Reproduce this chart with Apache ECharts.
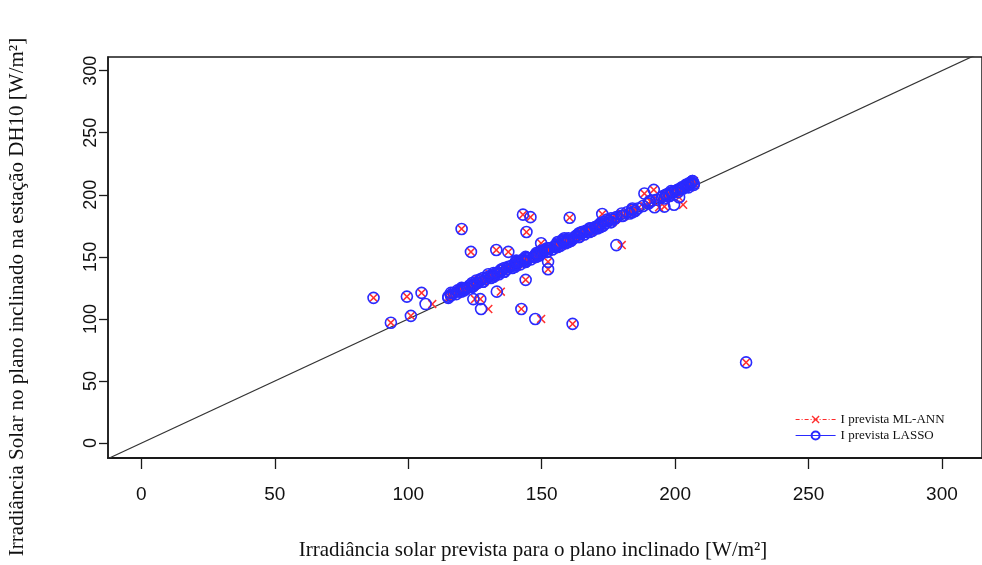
<!DOCTYPE html>
<html>
<head>
<meta charset="utf-8">
<script src="https://cdn.jsdelivr.net/npm/echarts@6/dist/echarts.min.js"></script>
<style>
html,body{margin:0;padding:0;background:#fff;}
#chart{width:982px;height:565px;}
</style>
</head>
<body>
<div id="chart"></div>
<script>
// Observed irradiance (y) and the two model predictions (x)
const observed = [
  117, 97, 118, 102.5, 121, 112, 172.5, 154, 116, 116, 108, 155.5, 122, 154, 184, 182, 170, 161, 131.5, 108,
  100, 146, 140, 181.5, 96, 159.5, 184.5, 201, 204, 190, 190.5, 192, 202, 198, 65,
  118, 119, 121, 120, 122, 124, 123, 125, 127, 126, 128, 129, 131, 130, 132, 134, 133, 135, 137, 136,
  139, 138, 140, 142, 141, 143, 145, 144, 147, 146, 149, 148, 150, 152, 151, 153, 155, 154, 157, 156,
  158, 160, 159, 162, 161, 164, 163, 165, 167, 166, 169, 168, 170, 172, 171, 174, 173, 176, 175, 177,
  179, 178, 180, 182, 183, 186, 185, 188, 187, 189, 191, 193, 196, 198, 197, 200, 199, 202, 203, 202,
  205, 206, 207, 208, 210, 209, 206, 205, 204, 209, 208, 119, 124, 147, 163, 186,
  121, 117, 125, 122, 129, 126, 133, 130, 137, 134, 141, 138, 145, 142, 149, 146, 153, 150, 157, 154,
  161, 158, 165, 162, 169, 166, 173, 170, 177, 174, 181, 178, 185, 183, 189, 194, 200, 204, 207, 210,
  127, 135, 143, 151, 159, 167, 175, 211, 208, 201,
  123, 128, 132, 137, 140, 144, 148, 152, 155, 159, 163, 166, 170, 174, 178, 181, 136, 142, 150, 157,
  164, 171, 146, 154, 162, 169, 203, 206, 209, 211, 199, 195, 124, 131, 139, 147, 156, 165, 173, 180
];
const predANN = [
  87, 93.5, 99.5, 101, 105, 109, 120, 123.5, 125, 127, 130, 133, 134.7, 137.5, 143, 145.8, 144.3, 149.8, 144, 142.4,
  149.8, 152.4, 152.4, 160.5, 161.6, 180, 172.7, 188.5, 192, 194, 196, 203, 199, 201.5, 226.6,
  115.5, 116, 117, 118.5, 119, 120, 121.5, 122, 123, 124.5, 125, 126, 127, 128.5, 129, 130, 131.5, 132, 133, 134,
  135.5, 136, 137, 138, 139.5, 140, 141, 142, 143.5, 144, 145, 146.5, 147, 148, 149, 150.5, 151, 152, 153, 154.5,
  155, 156, 157.5, 158, 159, 160.5, 161, 162, 163, 164.5, 165, 166, 167.5, 168, 169, 170, 171.5, 172, 173, 174.5,
  175, 176, 177.5, 178, 180.5, 182, 183, 184.5, 185, 186, 188.5, 190, 193.5, 195, 196, 197.5, 198, 199, 200.5, 201,
  202, 203.5, 204, 205, 206.5, 207, 205.5, 203, 201.5, 206, 204.5, 116, 121, 144, 160, 184,
  116.5, 115, 120.5, 120, 124.5, 124, 128.5, 128, 132, 132.5, 136.5, 136, 140, 140.5, 144.5, 144, 148.5, 148, 152, 152.5,
  156.5, 156, 160, 160.5, 164.5, 164, 168, 168.5, 172.5, 172, 176, 176.5, 180, 181, 184.5, 191, 197, 201.5, 205, 206.5,
  125, 131, 139.5, 148, 155, 163.5, 171, 207, 207.5, 198,
  119, 125, 127, 134, 135, 141, 143, 149, 150, 156, 158, 163, 165, 171, 173, 178, 130.5, 138, 144.5, 153,
  158.5, 167, 141, 150, 156.5, 165, 199, 203, 205, 207, 196, 191, 121, 126, 135, 141, 152, 159, 169, 175
];
const predLASSO = [
  87, 93.5, 99.5, 101, 105, 106.5, 120, 123.5, 124.4, 127, 127.3, 133, 133.2, 137.5, 143, 145.8, 144.3, 149.8, 144, 142.4,
  147.6, 152.4, 152.4, 160.5, 161.6, 178, 172.7, 188.5, 192, 192.3, 196, 199.6, 199, 201.5, 226.6,
  115, 116, 117, 118, 119, 120, 121, 122, 123, 124, 125, 126, 127, 128, 129, 130, 131, 132, 133, 134,
  135, 136, 137, 138, 139, 140, 141, 142, 143, 144, 145, 146, 147, 148, 149, 150, 151, 152, 153, 154,
  155, 156, 157, 158, 159, 160, 161, 162, 163, 164, 165, 166, 167, 168, 169, 170, 171, 172, 173, 174,
  175, 176, 177, 178, 180, 182, 183, 184, 185, 186, 188, 190, 193, 195, 196, 197, 198, 199, 200, 201,
  202, 203, 204, 205, 206, 207, 205, 203, 201, 206, 204, 116, 121, 144, 160, 184,
  116, 115, 120, 120, 124, 124, 128, 128, 132, 132, 136, 136, 140, 140, 144, 144, 148, 148, 152, 152,
  156, 156, 160, 160, 164, 164, 168, 168, 172, 172, 176, 176, 180, 180.5, 184, 190.5, 196.5, 201, 204.5, 206,
  124.5, 131, 139, 147.5, 155, 163, 171, 206.5, 207, 197.5,
  118.5, 124.5, 127, 133.5, 135, 140.5, 143, 148.5, 150, 155.5, 158, 162.5, 165, 170.5, 173, 177.5, 130, 137.5, 144, 152.5,
  158, 166.5, 140.5, 149.5, 156, 164.5, 198.5, 202.5, 205, 206.5, 195.5, 190.5, 120.5, 125.5, 134.5, 140.5, 151.5, 158.5, 168.5, 174.5
];
const xTicks = [0, 50, 100, 150, 200, 250, 300];
const yTicks = [0, 50, 100, 150, 200, 250, 300];
const diagonal = [-20, 330];
const seriesNames = ['I prevista ML-ANN', 'I prevista LASSO'];
const xTitle = 'Irradiância solar prevista para o plano inclinado [W/m²]';
const yTitle = 'Irradiância Solar no plano inclinado na estação DH10 [W/m²]';

const annData = observed.map((y, i) => [predANN[i], y]);
const lassoData = observed.map((y, i) => [predLASSO[i], y]);
const diagData = diagonal.map(v => [v, v]);

const xSymbol = 'path://M0,1.2L1.2,0L5,3.8L8.8,0L10,1.2L6.2,5L10,8.8L8.8,10L5,6.2L1.2,10L0,8.8L3.8,5Z';

const chart = echarts.init(document.getElementById('chart'), null, {renderer: 'canvas'});
chart.setOption({
  animation: false,
  backgroundColor: '#ffffff',
  grid: {
    left: 108, top: 57, width: 888, height: 401,
    show: true, borderColor: '#1a1a1a', borderWidth: 1.5, backgroundColor: 'transparent'
  },
  xAxis: {
    type: 'value', min: -12.5, max: 315,
    axisLine: {show: true, onZero: false, lineStyle: {color: '#1a1a1a', width: 2}},
    splitLine: {show: false},
    axisTick: {show: true, length: 11, customValues: xTicks, lineStyle: {color: '#1a1a1a', width: 1.3}},
    axisLabel: {customValues: xTicks, margin: 27, fontFamily: 'Liberation Sans, Arial', fontSize: 19, color: '#111'}
  },
  yAxis: {
    type: 'value', min: -12, max: 311,
    axisLine: {show: true, onZero: false, lineStyle: {color: '#1a1a1a', width: 1.5}},
    splitLine: {show: false},
    axisTick: {show: true, length: 9, customValues: yTicks, lineStyle: {color: '#1a1a1a', width: 1.3}},
    axisLabel: {customValues: yTicks, rotate: 90, margin: 8, fontFamily: 'Liberation Sans, Arial', fontSize: 18, color: '#111'}
  },
  legend: {
    left: 790, top: 408, orient: 'vertical', itemGap: 3, itemWidth: 40, itemHeight: 10,
    textStyle: {fontFamily: 'Liberation Serif, Times New Roman, serif', fontSize: 13, color: '#111'},
    data: [
      {name: seriesNames[0], lineStyle: {opacity: 1, width: 1, color: '#ff2a2a', type: [4, 2, 1, 2]}},
      {name: seriesNames[1], lineStyle: {opacity: 1, width: 1.2, color: '#2a2aff', type: 'solid'}}
    ]
  },
  graphic: [
    {type: 'text', x: 533, y: 550, style: {text: xTitle, fontFamily: 'Liberation Serif, Times New Roman, serif', fontSize: 21, fill: '#111', textAlign: 'center', textVerticalAlign: 'middle'}},
    {type: 'text', x: 17, y: 297, rotation: Math.PI / 2, style: {text: yTitle, fontFamily: 'Liberation Serif, Times New Roman, serif', fontSize: 21, fill: '#111', textAlign: 'center', textVerticalAlign: 'middle'}}
  ],
  series: [
    {
      type: 'line', data: diagData, symbol: 'none', silent: true, clip: true,
      lineStyle: {color: '#333', width: 1.2}, z: 1
    },
    {
      name: seriesNames[0], type: 'line', data: annData, clip: true,
      symbol: xSymbol, symbolSize: 9, showSymbol: true,
      itemStyle: {color: '#ff3030'},
      lineStyle: {opacity: 0, color: '#ff3030'}, z: 2
    },
    {
      name: seriesNames[1], type: 'line', data: lassoData, clip: true,
      symbol: 'circle', symbolSize: 11, showSymbol: true,
      itemStyle: {color: 'rgba(0,0,0,0)', borderColor: '#2a2aff', borderWidth: 1.6},
      lineStyle: {opacity: 0, color: '#2a2aff'}, z: 3
    }
  ]
});
</script>
</body>
</html>
